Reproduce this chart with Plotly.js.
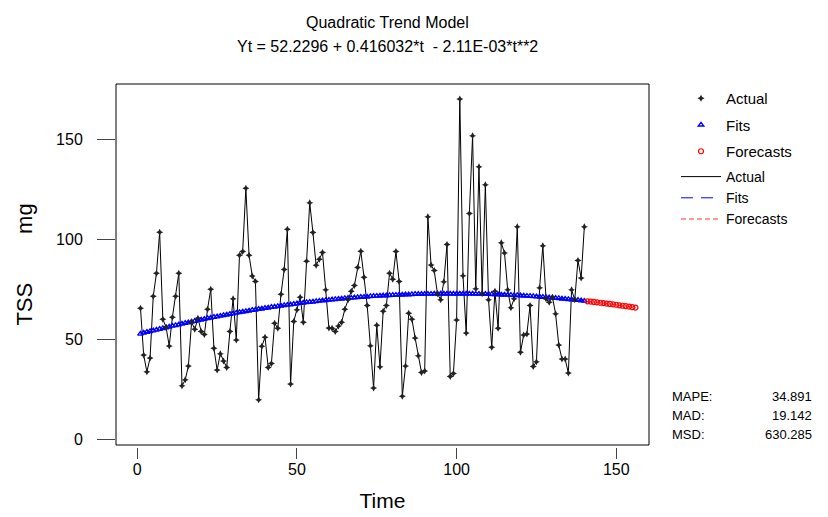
<!DOCTYPE html>
<html>
<head>
<meta charset="utf-8">
<script src="https://cdn.plot.ly/plotly-3.0.1.min.js"></script>
<style>html,body{margin:0;padding:0;background:#fff;}#chart{width:828px;height:517px;}</style>
</head>
<body>
<div id="chart"></div>
<script>
// Actual TSS values, t = 1..140
const actual = [65.5,42,33.7,40.5,71.5,83,103.5,60,56,46.6,
61,71.5,83,26.6,29.6,36.5,58.5,55,60.5,53.8,
52.3,65,75,45.4,34.5,42.7,39,35.8,53.8,70.2,
49.6,92,93.8,125.5,92,81.6,78.9,19.6,46.4,50.9,
35.8,37.8,58,55.4,72.4,84.8,105,27.5,58.8,64.7,
71,58.5,89,118.3,103.4,87,90,93.3,74.7,55.6,
55.4,53.8,56.6,58.5,65,69.7,74,76.9,85.9,94,
81,66.8,46.7,25.5,57,36.2,64,66.8,83,80,
93.8,78.9,21.4,36.5,63,60,50.6,41.7,33.3,34,
111.2,87.1,84.3,72.7,69.7,78.7,97.3,31.3,32.8,59.6,
170.2,81.7,53,112.9,151.8,75.2,136.3,72.7,127.3,69.7,
45.9,74,55.4,98.2,93.1,74.7,65.7,70.2,106.2,43.4,
52.1,52.6,66.8,36.3,38.7,75.7,96.7,70.2,68.5,71,
62.7,47,40,40,33,74.7,69.7,89.4,80.6,106.2];

// Fitted trend values, t = 1..140
const fits = [52.6,53.1,53.5,53.9,54.3,54.6,55.0,55.4,55.8,56.2,
56.6,56.9,57.3,57.6,58.0,58.3,58.7,59.0,59.4,59.7,
60.0,60.4,60.7,61.0,61.3,61.6,61.9,62.2,62.5,62.8,
63.1,63.4,63.7,63.9,64.2,64.5,64.7,65.0,65.2,65.5,
65.7,66.0,66.2,66.4,66.7,66.9,67.1,67.3,67.5,67.8,
68.0,68.2,68.4,68.5,68.7,68.9,69.1,69.3,69.4,69.6,
69.8,69.9,70.1,70.2,70.4,70.5,70.6,70.8,70.9,71.0,
71.1,71.2,71.4,71.5,71.6,71.7,71.8,71.8,71.9,72.0,
72.1,72.2,72.2,72.3,72.3,72.4,72.5,72.5,72.5,72.6,
72.6,72.6,72.7,72.7,72.7,72.7,72.7,72.7,72.7,72.7,
72.7,72.7,72.7,72.7,72.7,72.6,72.6,72.6,72.5,72.5,
72.4,72.4,72.3,72.2,72.2,72.1,72.0,71.9,71.9,71.8,
71.7,71.6,71.5,71.4,71.3,71.2,71.0,70.9,70.8,70.7,
70.5,70.4,70.2,70.1,69.9,69.8,69.6,69.5,69.3,69.1];

// Forecast values, t = 141..156
const forecasts = [68.9,68.8,68.6,68.4,68.2,68.0,67.8,67.6,67.4,67.2,66.9,66.7,66.5,66.3,66.0,65.8];

const xTicks = [0,50,100,150];
const yTicks = [0,50,100,150];
const titleText = 'Quadratic Trend Model';
const subtitleText = 'Yt = 52.2296 + 0.416032*t \u00a0- 2.11E-03*t**2';
const statLabels = ['MAPE:','MAD:','MSD:'];
const statValues = ['34.891','19.142','630.285'];

const tActual = actual.map((_, i) => i + 1);
const tFore = forecasts.map((_, i) => actual.length + i + 1);

const FONT = "'Liberation Sans Narrow', 'Liberation Sans', Arial, sans-serif";

const traces = [
  {x: tActual, y: actual, mode: 'lines', name: 'Actual', line: {color: '#000', width: 1}, legend: 'legend2', legendrank: 4, hoverinfo: 'skip'},
  {x: tActual, y: fits, mode: 'lines', name: 'Fits', line: {color: '#0000ff', width: 1, dash: '12px,8px'}, legend: 'legend2', legendrank: 5, hoverinfo: 'skip'},
  {x: tFore, y: forecasts, mode: 'lines', name: 'Forecasts', line: {color: '#ff3333', width: 1, dash: '5px,3px'}, legend: 'legend2', legendrank: 6, hoverinfo: 'skip'},
  {x: tActual, y: fits, mode: 'markers', name: 'Fits', legendgroup: 'g2', marker: {symbol: 'triangle-up-open', size: 5, color: '#0000ff', line: {width: 1.3}}, legendrank: 2},
  {x: tFore, y: forecasts, mode: 'markers', name: 'Forecasts', legendgroup: 'g3', marker: {symbol: 'circle-open', size: 5, color: '#ff0000', line: {width: 1.2}}, legendrank: 3},
  {x: tActual, y: actual, mode: 'markers', name: 'Actual', legendgroup: 'g1', marker: {symbol: 'star-diamond', size: 5, color: '#222'}, legendrank: 1}
];

const PH = 363; // paper height in px (t=84, b=70)
const py = p => (447 - p) / PH;
const px = p => (p - 116) / 533;

const annotations = [
  {text: titleText, xref: 'paper', yref: 'paper', x: px(387), y: py(22), showarrow: false, xanchor: 'center', yanchor: 'middle', font: {size: 16, color: '#000', family: FONT}},
  {text: subtitleText, xref: 'paper', yref: 'paper', x: px(387), y: py(47), showarrow: false, xanchor: 'center', yanchor: 'middle', font: {size: 16, color: '#000', family: FONT}}
];
const rowsY = [396, 415, 434];
statLabels.forEach((s, i) => {
  annotations.push({text: s, xref: 'paper', yref: 'paper', x: px(670), y: py(rowsY[i]), showarrow: false, xanchor: 'left', yanchor: 'middle', font: {size: 13, color: '#000', family: FONT}});
  annotations.push({text: statValues[i], xref: 'paper', yref: 'paper', x: px(814), y: py(rowsY[i]), showarrow: false, xanchor: 'right', yanchor: 'middle', font: {size: 13, color: '#000', family: FONT}});
});

const layout = {
  width: 828, height: 517,
  margin: {l: 116, r: 179, t: 84, b: 70},
  paper_bgcolor: '#fff', plot_bgcolor: '#fff',
  font: {family: FONT, color: '#000'},
  showlegend: true,
  xaxis: {
    range: [-6.67, 160.25], tickvals: xTicks, ticktext: xTicks.map(String),
    ticks: 'outside', ticklen: 11, tickwidth: 1, tickcolor: '#444',
    showline: false, showgrid: false, zeroline: false,
    anchor: 'free', position: 0, ticklabelstandoff: -3,
    tickfont: {size: 16, family: FONT},
    title: {text: 'Time', font: {size: 21, family: FONT}, standoff: 16}
  },
  yaxis: {
    domain: [2 / PH, 1],
    range: [-3, 177.7], tickvals: yTicks, ticktext: yTicks.map(String),
    ticks: 'outside', ticklen: 18, tickwidth: 1, tickcolor: '#444',
    showline: false, showgrid: false, zeroline: false, ticklabelstandoff: 11,
    tickfont: {size: 16, family: FONT},
    title: {text: 'TSS\u00a0\u00a0\u00a0\u00a0\u00a0\u00a0\u00a0\u00a0mg', font: {size: 22, family: FONT}, standoff: 17}
  },
  shapes: [{type: 'rect', xref: 'x domain', yref: 'y domain', x0: 0, x1: 1, y0: 0, y1: 1, line: {color: '#000', width: 1}, fillcolor: 'rgba(0,0,0,0)'}],
  legend: {x: px(676), y: py(82), xanchor: 'left', yanchor: 'top', bgcolor: 'rgba(0,0,0,0)', font: {size: 15, family: FONT}, traceorder: 'grouped', itemwidth: 40, tracegroupgap: 4},
  legend2: {x: px(676), y: py(161), xanchor: 'left', yanchor: 'top', bgcolor: 'rgba(0,0,0,0)', font: {size: 14, family: FONT}, traceorder: 'normal', itemwidth: 40, tracegroupgap: 0},
  annotations: annotations
};

Plotly.newPlot('chart', traces, layout, {displayModeBar: false, staticPlot: true});
</script>
</body>
</html>
